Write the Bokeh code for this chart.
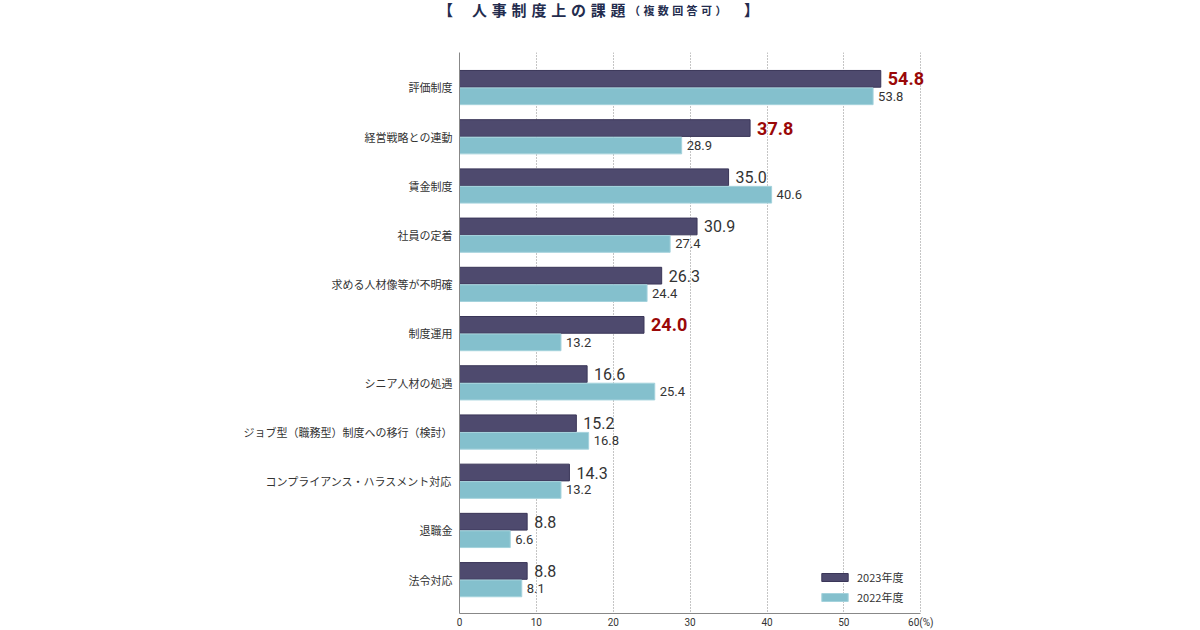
from bokeh.plotting import figure
from bokeh.models import (Range1d, FixedTicker, ColumnDataSource, Legend, LegendItem, Div, LabelSet)
from bokeh.layouts import column
from bokeh.core.properties import value
from bokeh.embed import file_html
from bokeh.resources import INLINE

categories = ["評価制度", "経営戦略との連動", "賃金制度", "社員の定着", "求める人材像等が不明確",
              "制度運用", "シニア人材の処遇", "ジョブ型（職務型）制度への移行（検討）",
              "コンプライアンス・ハラスメント対応", "退職金", "法令対応"]
values_2023 = [54.8, 37.8, 35.0, 30.9, 26.3, 24.0, 16.6, 15.2, 14.3, 8.8, 8.8]
values_2022 = [53.8, 28.9, 40.6, 27.4, 24.4, 13.2, 25.4, 16.8, 13.2, 6.6, 8.1]
highlight_2023 = [True, True, False, False, False, True, False, False, False, False, False]
series_names = ["2023年度", "2022年度"]
x_ticks = [0, 10, 20, 30, 40, 50, 60]
x_tick_labels = ["0", "10", "20", "30", "40", "50", "60(%)"]

C23 = "#4e4a6e"
C22 = "#84c0cd"
RED = "#9a0808"
TXT = "#333333"
JP = "Noto Sans CJK JP"
NUM = "Roboto"

idx = list(range(len(categories)))
src = ColumnDataSource(dict(
    y23=[i - 0.175 for i in idx],
    y22=[i + 0.18 for i in idx],
    v23=values_2023,
    v22=values_2022,
    l22=[f"{v:.1f}" for v in values_2022],
))
hi = ColumnDataSource(dict(
    y=[i - 0.175 for i, h in zip(idx, highlight_2023) if h],
    v=[v for v, h in zip(values_2023, highlight_2023) if h],
    l=[f"{v:.1f}" for v, h in zip(values_2023, highlight_2023) if h],
))
lo = ColumnDataSource(dict(
    y=[i - 0.175 for i, h in zip(idx, highlight_2023) if not h],
    v=[v for v, h in zip(values_2023, highlight_2023) if not h],
    l=[f"{v:.1f}" for v, h in zip(values_2023, highlight_2023) if not h],
))

# x range extends past 60 so value labels beyond the last gridline are not clipped;
# axis line and grid are bounded to 0..60
p = figure(width=1184, height=594, output_backend="svg", toolbar_location=None,
           x_range=Range1d(0, 64), y_range=Range1d(10.69, -0.71),
           min_border_left=459, min_border_right=233, min_border_top=16, min_border_bottom=16)
p.outline_line_color = None
p.background_fill_color = "white"

r23 = p.hbar(y="y23", right="v23", left=0, height=0.34, source=src,
             fill_color=C23, line_color="#3a3658", line_width=1)
r22 = p.hbar(y="y22", right="v22", left=0, height=0.34, source=src,
             fill_color=C22, line_color="#a4d2dc", line_width=1)

p.add_layout(LabelSet(x="v", y="y", text="l", source=hi, x_offset=7, text_baseline="middle",
                      text_font=value(NUM), text_font_style="bold", text_font_size="18px",
                      text_color=RED))
p.add_layout(LabelSet(x="v", y="y", text="l", source=lo, x_offset=7, text_baseline="middle",
                      text_font=value(NUM), text_font_size="16px", text_color=TXT))
p.add_layout(LabelSet(x="v22", y="y22", text="l22", source=src, x_offset=5, text_baseline="middle",
                      text_font=value(NUM), text_font_size="13px", text_color=TXT))

# x axis
p.xaxis.ticker = FixedTicker(ticks=x_ticks)
p.xaxis.bounds = (0, 60)
p.xaxis.major_label_overrides = {t: l for t, l in zip(x_ticks, x_tick_labels)}
p.xaxis.major_tick_line_color = None
p.xaxis.major_tick_out = 0
p.xaxis.major_tick_in = 0
p.xaxis.minor_tick_line_color = None
p.xaxis.minor_tick_out = 0
p.xaxis.axis_line_color = "#888888"
p.xaxis.major_label_text_font = NUM
p.xaxis.major_label_text_font_size = "10px"
p.xaxis.major_label_text_color = TXT
p.xaxis.major_label_standoff = 3

# y axis
p.yaxis.ticker = FixedTicker(ticks=idx)
p.yaxis.major_label_overrides = {i: c for i, c in zip(idx, categories)}
p.yaxis.major_tick_line_color = None
p.yaxis.major_tick_out = 0
p.yaxis.major_tick_in = 0
p.yaxis.minor_tick_line_color = None
p.yaxis.minor_tick_out = 0
p.yaxis.axis_line_color = "#888888"
p.yaxis.major_label_text_font = JP
p.yaxis.major_label_text_font_size = "11px"
p.yaxis.major_label_text_color = TXT
p.yaxis.major_label_standoff = 7

p.ygrid.grid_line_color = None
p.xgrid.grid_line_color = "#8a8a8a"
p.xgrid.grid_line_dash = "1 2"
p.xgrid.ticker = FixedTicker(ticks=x_ticks[1:])

legend = Legend(items=[LegendItem(label=series_names[0], renderers=[r23]),
                       LegendItem(label=series_names[1], renderers=[r22])],
                location=(359, 6), orientation="vertical",
                glyph_width=33, glyph_height=10, label_height=20, spacing=0,
                padding=4, margin=0, border_line_color=None, background_fill_alpha=0,
                label_text_font=JP, label_text_font_size="11px", label_text_color=TXT,
                label_standoff=6)
p.add_layout(legend)

base = "position:absolute;top:-1px;line-height:22px;white-space:nowrap;"
title = Div(text=(
    "<div style=\"position:relative;width:1184px;height:36px;font-family:'Noto Sans CJK JP';"
    "font-weight:bold;color:#232c4e;\">"
    f"<span style='{base}left:438px;font-size:15px;'>【</span>"
    f"<span style='{base}left:472px;font-size:15px;letter-spacing:4.8px;'>人事制度上の課題</span>"
    f"<span style='{base}left:629px;font-size:11px;letter-spacing:3.4px;'>（複数回答可）</span>"
    f"<span style='{base}left:744px;font-size:15px;'>】</span>"
    "</div>"),
    width=1184, height=36, margin=(0, 0, 0, 0))

layout = column(title, p, spacing=0)
open("out.html", "w").write(file_html(layout, INLINE))
